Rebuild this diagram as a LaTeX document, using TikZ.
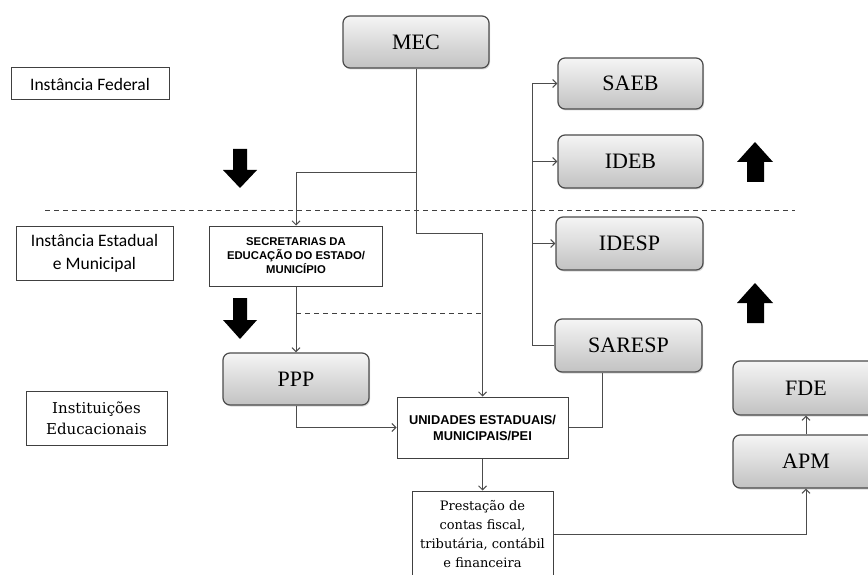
\documentclass[tikz,border=0pt]{standalone}
\usepackage{fontspec}
\setmainfont{Liberation Serif}
\newfontfamily\calibri{Carlito}
\newfontfamily\arial{Liberation Sans}
\newfontfamily\dejaserif{DejaVu Serif}
\usetikzlibrary{positioning, arrows.meta, shadows}
\tikzset{caixa/.style={draw=black!70, line width=1.2pt, rounded corners=7pt, top color=black!4, bottom color=black!24, drop shadow={shadow xshift=1pt, shadow yshift=-1.5pt, opacity=0.3}, font=\fontsize{22}{24}\selectfont, inner sep=0pt}}
\tikzset{quadro/.style={draw=black!75, line width=1pt, fill=white, align=center, inner sep=0pt}}
\tikzset{nivel/.style={quadro, font=\calibri\fontsize{17.5}{23}\selectfont}}
\tikzset{seta/.style={-{Straight Barb[length=4pt,width=8pt]}}}
\tikzset{ligacao/.style={draw=black!70, line width=1pt}}
\tikzset{tracejada/.style={draw=black!75, line width=1pt, dash pattern=on 5pt off 4pt}}
\tikzset{setabloco/.style={fill=black}}

\begin{document}
\begin{tikzpicture}[x=1pt, y=-1pt]
    \fill[white] (0,0) rectangle (868,575);
    \useasboundingbox (0,0) rectangle (868,575);

    % niveis
    \node[nivel, minimum width=158, minimum height=32](fed) at (90,84) {Instância Federal};
    \node[nivel, minimum width=157, minimum height=54](est) at (94.5,253) {Instância Estadual\\e Municipal};
    \node[quadro, minimum width=141, minimum height=54, font=\dejaserif\fontsize{15}{21}\selectfont](inst) at (96.5,418) {Instituições\\Educacionais};

    % caixas
    \node[caixa, minimum width=146, minimum height=52](mec) at (416,42) {MEC};
    \node[caixa, minimum width=145, minimum height=51](saeb) at (630.5,83.5) {SAEB};
    \node[caixa, minimum width=145, minimum height=53](ideb) at (630.5,161.5) {IDEB};
    \node[caixa, minimum width=147, minimum height=53](idesp) at (629.5,243.5) {IDESP};
    \node[caixa, minimum width=147, minimum height=53](saresp) at (628.5,345.5) {SARESP};
    \node[caixa, minimum width=146, minimum height=54](fde) at (806,388) {FDE};
    \node[caixa, minimum width=146, minimum height=53](apm) at (806,461.5) {APM};
    \node[caixa, minimum width=146, minimum height=52](ppp) at (296,379) {PPP};

    \node[quadro, minimum width=173, minimum height=60, font=\arial\bfseries\fontsize{11.3}{14}\selectfont](sec) at (296,256) {SECRETARIAS DA\\EDUCAÇÃO DO ESTADO/\\MUNICÍPIO};
    \node[quadro, minimum width=171, minimum height=61, font=\arial\bfseries\fontsize{12.8}{16}\selectfont](uni) at (482.5,427.5) {UNIDADES ESTADUAIS/\\MUNICIPAIS/PEI};
    \node[quadro, minimum width=141, minimum height=86, font=\dejaserif\fontsize{13}{19}\selectfont](prest) at (482.5,534) {Prestação de\\contas fiscal,\\tributária, contábil\\e financeira};

    % setas grandes
    \fill[setabloco] (233,149) -- (247,149) -- (247,170) -- (257,170) -- (240,188) -- (223,170) -- (233,170) -- cycle;
    \fill[setabloco] (233,298) -- (247,298) -- (247,320) -- (257,320) -- (240,339) -- (223,320) -- (233,320) -- cycle;
    \fill[setabloco] (747,182) -- (764,182) -- (764,162) -- (773,162) -- (755,142) -- (737,162) -- (747,162) -- cycle;
    \fill[setabloco] (747,323) -- (764,323) -- (764,303) -- (773,303) -- (755,283) -- (737,303) -- (747,303) -- cycle;

    % divisoes
    \coordinate (divE) at (45,210);
    \coordinate (divD) at (795,210);
    \draw[tracejada] (divE) -- (divD);

    % ligacoes
    \coordinate (ramo) at (416,173);
    \coordinate (dobra) at (416,233);
    \coordinate (eixo) at (532,0);
    \draw[ligacao, seta] (mec.south) -- (dobra) -| (uni.north);
    \draw[ligacao, seta] (ramo) -| (sec.north);
    \draw[ligacao, seta] (sec.south) -- (ppp.north);
    \coordinate (tracoE) at (296,313);
    \coordinate (tracoD) at (482.5,313);
    \draw[tracejada] (tracoE) -- (tracoD);
    \draw[ligacao, seta] (ppp.south) |- (uni.west);
    \draw[ligacao, seta] (uni.south) -- (prest.north);
    \draw[ligacao] (uni.east) -| ([xshift=-26pt]saresp.south);
    \draw[ligacao] (saresp.west) -- (saresp.west -| eixo) -- (saeb.west -| eixo);
    \foreach \alvo in {saeb, ideb, idesp}
        \draw[ligacao, seta] (\alvo.west -| eixo) -- (\alvo.west);
    \draw[ligacao, seta] (prest.east) -| (apm.south);
    \draw[ligacao, seta] (apm.north) -- (fde.south);
\end{tikzpicture}
\end{document}
